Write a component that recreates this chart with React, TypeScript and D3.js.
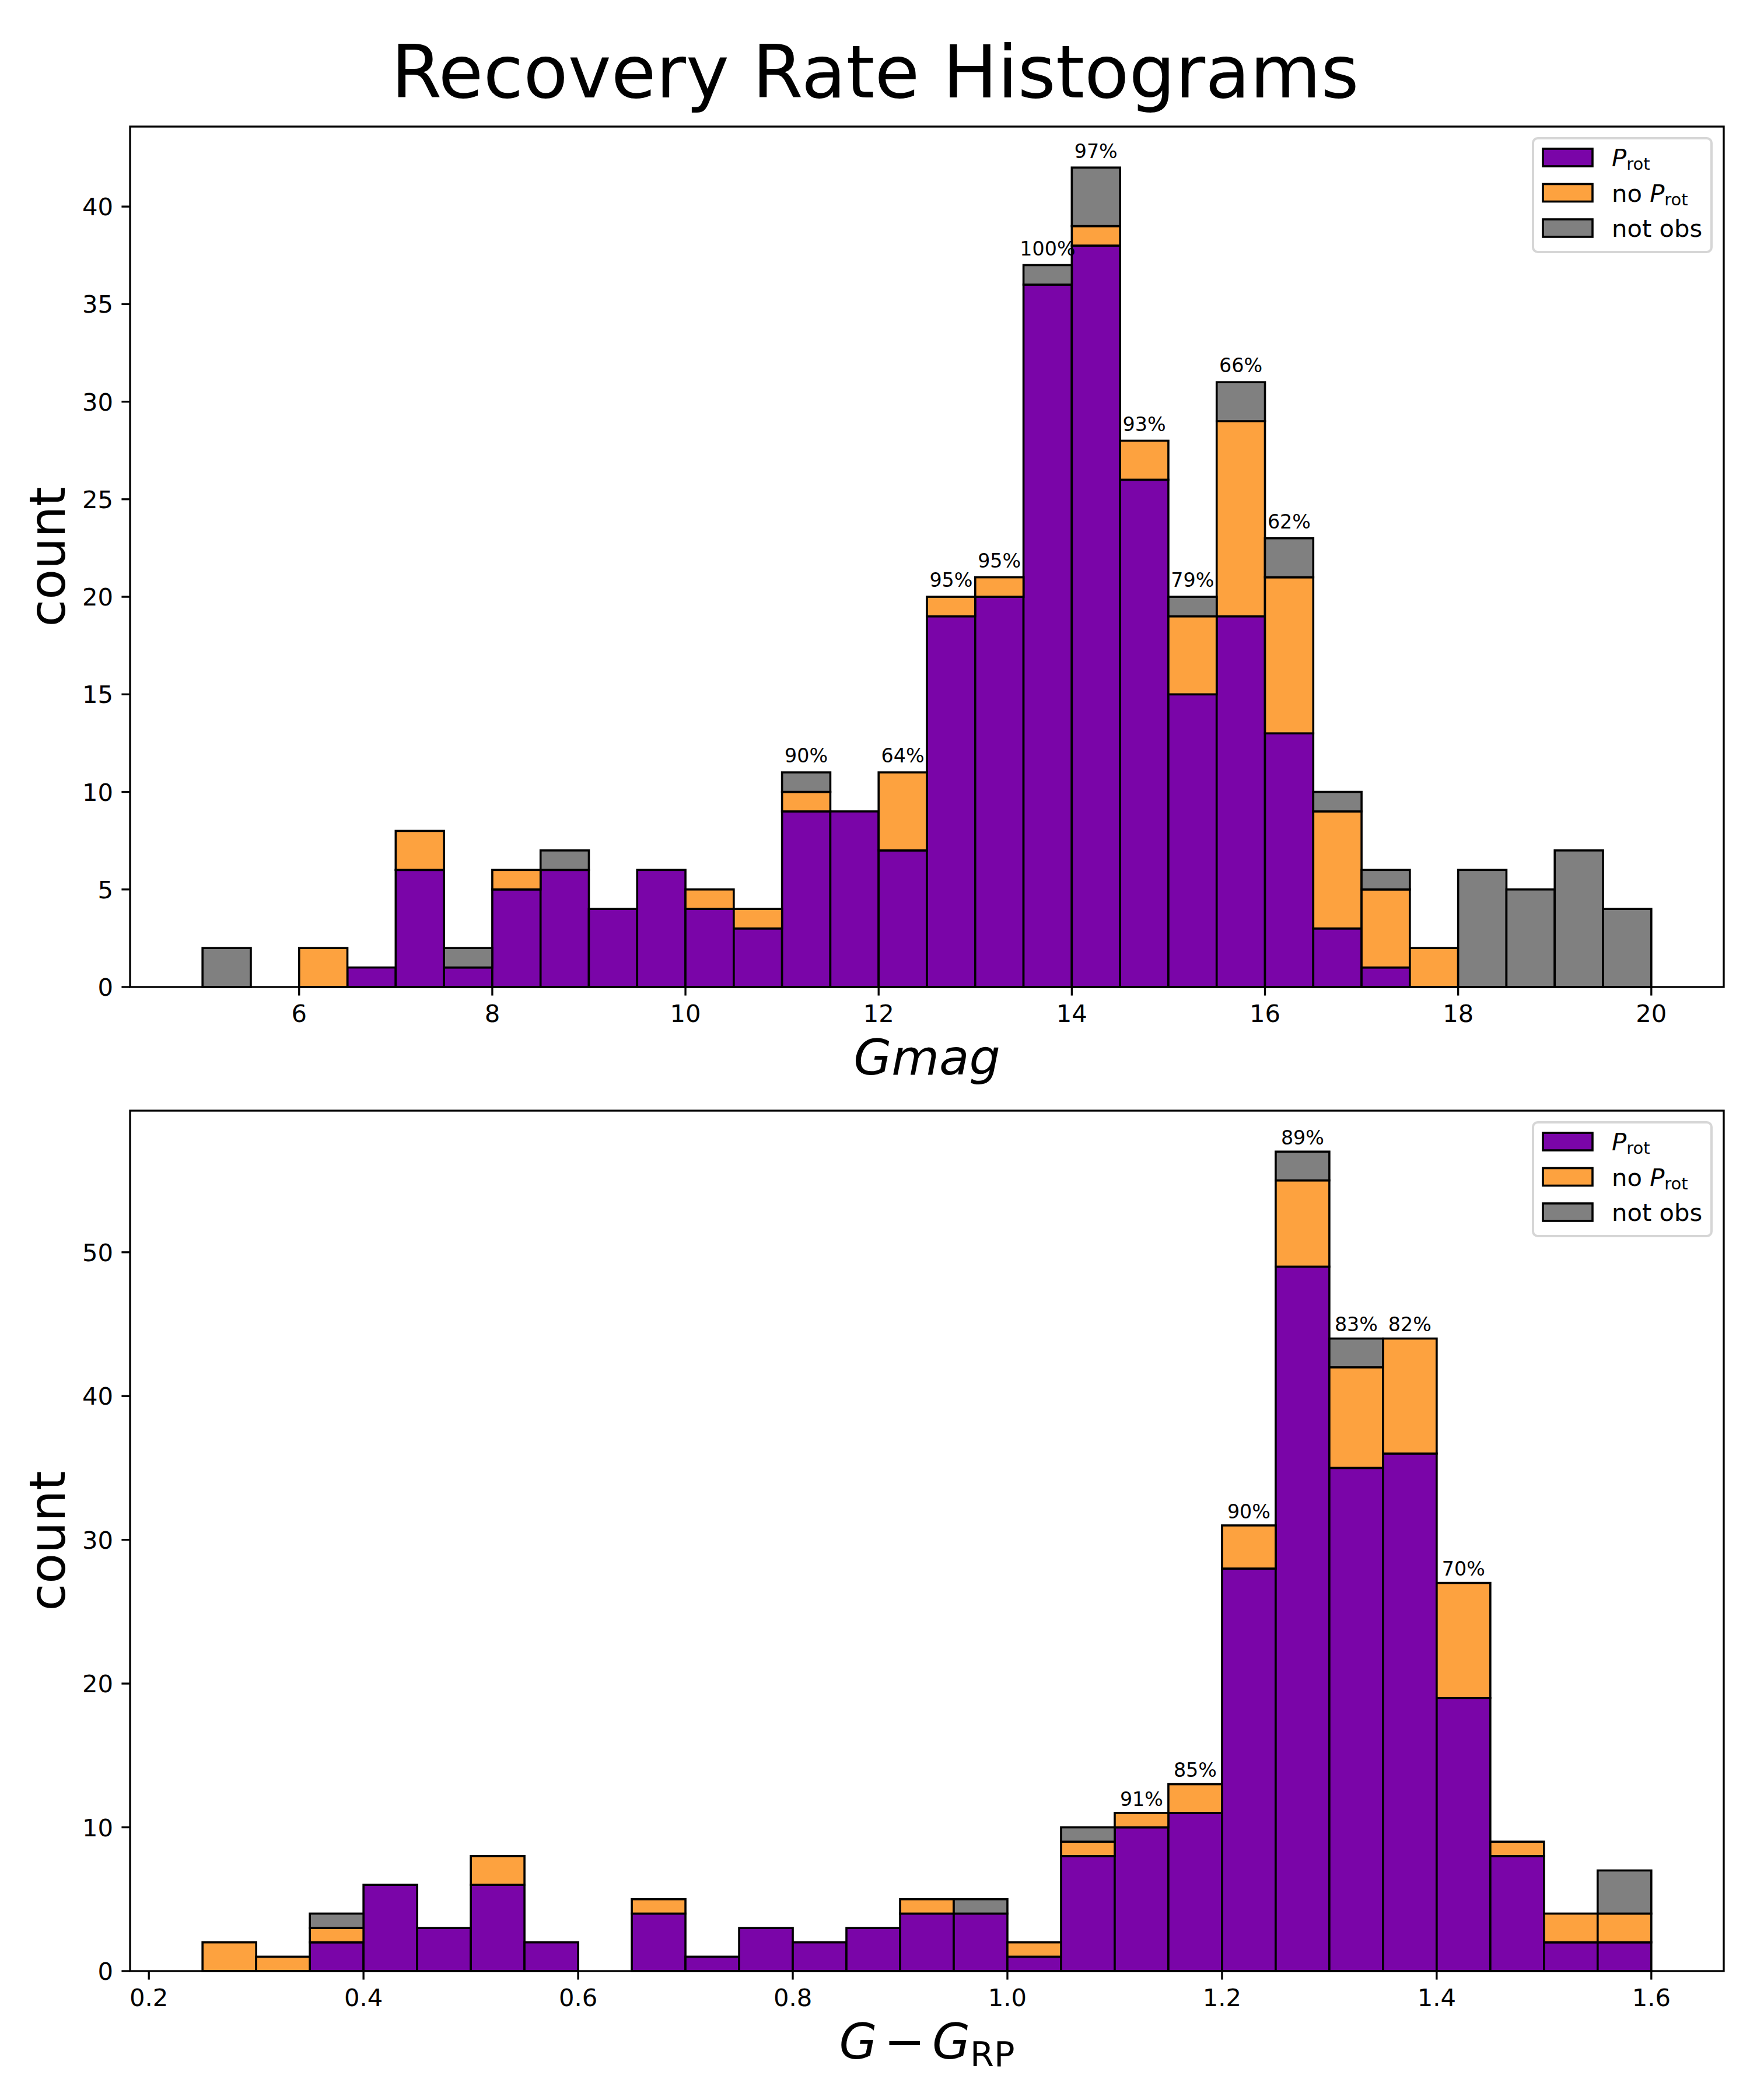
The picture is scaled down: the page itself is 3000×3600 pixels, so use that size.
import * as d3 from 'd3';

// Gmag histogram (bin starts, width 0.5)
const gmagBins = [5, 5.5, 6, 6.5, 7, 7.5, 8, 8.5, 9, 9.5, 10, 10.5, 11, 11.5, 12, 12.5, 13, 13.5, 14, 14.5, 15, 15.5, 16, 16.5, 17, 17.5, 18, 18.5, 19, 19.5];
const gmagProt = [0, 0, 0, 1, 6, 1, 5, 6, 4, 6, 4, 3, 9, 9, 7, 19, 20, 36, 38, 26, 15, 19, 13, 3, 1, 0, 0, 0, 0, 0];
const gmagNoProt = [0, 0, 2, 0, 2, 0, 1, 0, 0, 0, 1, 1, 1, 0, 4, 1, 1, 0, 1, 2, 4, 10, 8, 6, 4, 2, 0, 0, 0, 0];
const gmagNotObs = [2, 0, 0, 0, 0, 1, 0, 1, 0, 0, 0, 0, 1, 0, 0, 0, 0, 1, 3, 0, 1, 2, 2, 1, 1, 0, 6, 5, 7, 4];
const gmagTicks = [6, 8, 10, 12, 14, 16, 18, 20];
const gmagYTicks = [0, 5, 10, 15, 20, 25, 30, 35, 40];

// G - G_RP histogram (bin starts, width 0.05)
const colorBins = [0.25, 0.3, 0.35, 0.4, 0.45, 0.5, 0.55, 0.6, 0.65, 0.7, 0.75, 0.8, 0.85, 0.9, 0.95, 1.0, 1.05, 1.1, 1.15, 1.2, 1.25, 1.3, 1.35, 1.4, 1.45, 1.5, 1.55];
const colorProt = [0, 0, 2, 6, 3, 6, 2, 0, 4, 1, 3, 2, 3, 4, 4, 1, 8, 10, 11, 28, 49, 35, 36, 19, 8, 2, 2];
const colorNoProt = [2, 1, 1, 0, 0, 2, 0, 0, 1, 0, 0, 0, 0, 1, 0, 1, 1, 1, 2, 3, 6, 7, 8, 8, 1, 2, 2];
const colorNotObs = [0, 0, 1, 0, 0, 0, 0, 0, 0, 0, 0, 0, 0, 0, 1, 0, 1, 0, 0, 0, 2, 2, 0, 0, 0, 0, 3];
const colorTicks = [0.2, 0.4, 0.6, 0.8, 1.0, 1.2, 1.4, 1.6];
const colorYTicks = [0, 10, 20, 30, 40, 50];

const PURPLE = '#7a05a8';
const ORANGE = '#fda23f';
const GREY = '#808080';
const FONT = 'DejaVu Sans, sans-serif';

const W = 3000;
const H = 3600;
const LEFT = 223;
const RIGHT = 2955;

interface PanelProps {
  top: number;
  bottom: number;
  bins: number[];
  width: number;
  prot: number[];
  noProt: number[];
  notObs: number[];
  xTicks: number[];
  yTicks: number[];
  tickFmt: (v: number) => string;
  xlabel: React.ReactNode;
}

function Panel({ top, bottom, bins, width, prot, noProt, notObs, xTicks, yTicks, tickFmt, xlabel }: PanelProps) {
  const x0 = bins[0];
  const x1 = bins[bins.length - 1] + width;
  const pad = (x1 - x0) * 0.05;
  const x = d3.scaleLinear().domain([x0 - pad, x1 + pad]).range([LEFT, RIGHT]);
  const totals = bins.map((_, i) => prot[i] + noProt[i] + notObs[i]);
  const ymax = (d3.max(totals) ?? 1) * 1.05;
  const y = d3.scaleLinear().domain([0, ymax]).range([bottom, top]);

  const layers = [
    { vals: prot, base: bins.map(() => 0), color: PURPLE },
    { vals: noProt, base: prot, color: ORANGE },
    { vals: notObs, base: bins.map((_, i) => prot[i] + noProt[i]), color: GREY },
  ];

  const legendX = RIGHT - 21 - 306;
  const legendY = top + 20;
  const entries: { color: string; label: React.ReactNode }[] = [
    {
      color: PURPLE,
      label: (
        <>
          <tspan fontStyle="italic">P</tspan>
          <tspan fontSize={29} dy={6}>rot</tspan>
        </>
      ),
    },
    {
      color: ORANGE,
      label: (
        <>
          <tspan>no </tspan>
          <tspan fontStyle="italic">P</tspan>
          <tspan fontSize={29} dy={6}>rot</tspan>
        </>
      ),
    },
    { color: GREY, label: <tspan>not obs</tspan> },
  ];

  return (
    <g>
      {layers.map((layer, li) => (
        <g key={li}>
          {bins.map((b, i) =>
            layer.vals[i] > 0 ? (
              <rect
                key={i}
                x={x(b)}
                y={y(layer.base[i] + layer.vals[i])}
                width={x(b + width) - x(b)}
                height={y(layer.base[i]) - y(layer.base[i] + layer.vals[i])}
                fill={layer.color}
                stroke="#000"
                strokeWidth={3.6}
              />
            ) : null
          )}
        </g>
      ))}

      {/* recovery rate labels */}
      {bins.map((b, i) => {
        if (totals[i] <= 10) return null;
        const pct = Math.round((100 * prot[i]) / (prot[i] + noProt[i]));
        return (
          <text
            key={i}
            x={x(b + width / 2)}
            y={y(totals[i] + 0.5)}
            textAnchor="middle"
            fontFamily={FONT}
            fontSize={33.3}
          >
            {`${pct}%`}
          </text>
        );
      })}

      {/* spines */}
      <rect x={LEFT} y={top} width={RIGHT - LEFT} height={bottom - top} fill="none" stroke="#000" strokeWidth={3.33} />

      {/* x ticks */}
      {xTicks.map((t) => (
        <g key={t}>
          <line x1={x(t)} x2={x(t)} y1={bottom} y2={bottom + 14.6} stroke="#000" strokeWidth={3.33} />
          <text x={x(t)} y={bottom + 60} textAnchor="middle" fontFamily={FONT} fontSize={41.7}>
            {tickFmt(t)}
          </text>
        </g>
      ))}

      {/* y ticks */}
      {yTicks.map((t) => (
        <g key={t}>
          <line x1={LEFT - 14.6} x2={LEFT} y1={y(t)} y2={y(t)} stroke="#000" strokeWidth={3.33} />
          <text x={LEFT - 29} y={y(t) + 15} textAnchor="end" fontFamily={FONT} fontSize={41.7}>
            {t}
          </text>
        </g>
      ))}

      {/* axis labels */}
      <text x={(LEFT + RIGHT) / 2} y={bottom + 150} textAnchor="middle" fontFamily={FONT} fontSize={84}>
        {xlabel}
      </text>
      <text
        transform={`translate(111, ${(top + bottom) / 2}) rotate(-90)`}
        textAnchor="middle"
        fontFamily={FONT}
        fontSize={85}
      >
        count
      </text>

      {/* legend */}
      <rect
        x={legendX}
        y={legendY}
        width={306}
        height={195}
        rx={8}
        fill="#fff"
        fillOpacity={0.8}
        stroke="#cccccc"
        strokeOpacity={0.8}
        strokeWidth={4}
      />
      {entries.map((e, i) => {
        const cy = legendY + 33 + i * 60.5;
        return (
          <g key={i}>
            <rect x={legendX + 17} y={cy - 15} width={85} height={30} fill={e.color} stroke="#000" strokeWidth={3.6} />
            <text x={legendX + 135} y={cy + 15} fontFamily={FONT} fontSize={41.7}>
              {e.label}
            </text>
          </g>
        );
      })}
    </g>
  );
}

export default function App() {
  return (
    <svg
      width={W}
      height={H}
      viewBox={`0 0 ${W} ${H}`}
      style={{ position: 'absolute', left: 0, top: 0, background: '#fff' }}
    >
      <rect width={W} height={H} fill="#fff" />
      <text x={W / 2} y={167} textAnchor="middle" fontFamily={FONT} fontSize={125}>
        Recovery Rate Histograms
      </text>
      <Panel
        top={217}
        bottom={1692}
        bins={gmagBins}
        width={0.5}
        prot={gmagProt}
        noProt={gmagNoProt}
        notObs={gmagNotObs}
        xTicks={gmagTicks}
        yTicks={gmagYTicks}
        tickFmt={(v) => String(v)}
        xlabel={<tspan fontStyle="italic">Gmag</tspan>}
      />
      <Panel
        top={1904}
        bottom={3379}
        bins={colorBins}
        width={0.05}
        prot={colorProt}
        noProt={colorNoProt}
        notObs={colorNotObs}
        xTicks={colorTicks}
        yTicks={colorYTicks}
        tickFmt={(v) => v.toFixed(1)}
        xlabel={
          <>
            <tspan fontStyle="italic">G</tspan>
            <tspan dx={12}>−</tspan>
            <tspan fontStyle="italic" dx={12}>G</tspan>
            <tspan fontSize={59} dy={13}>RP</tspan>
          </>
        }
      />
    </svg>
  );
}
